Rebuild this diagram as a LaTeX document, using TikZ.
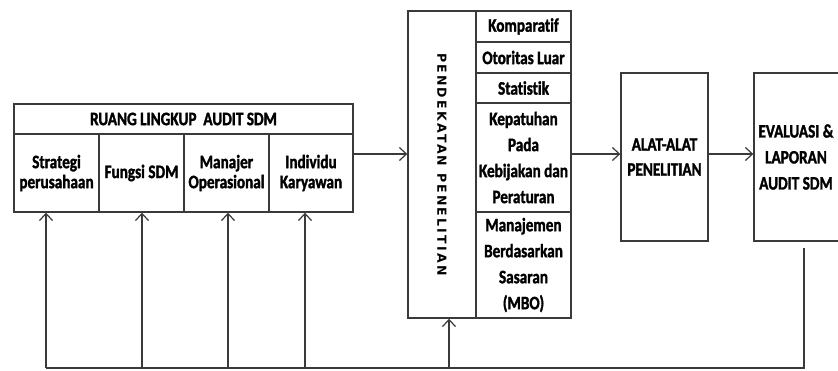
\documentclass[tikz,border=0pt]{standalone}
\usepackage{fontspec}
\usepackage{graphicx}
\usetikzlibrary{arrows.meta}
\newfontfamily\cf{Carlito}[FakeStretch=0.8, FakeBold=1.6, Ligatures=NoCommon]
\newfontfamily\vf{DejaVu Sans}[LetterSpace=18]
\definecolor{lc}{HTML}{3A3A3A}
\tikzset{
  box/.style={draw=lc, line width=1.4pt, inner sep=0pt, align=center,
    font=\cf\bfseries\fontsize{19}{20}\selectfont},
  tallbox/.style={box, font=\cf\bfseries\fontsize{19}{26}\selectfont},
  plain/.style={inner sep=0pt, align=center, font=\cf\bfseries\fontsize{19}{26}\selectfont},
  arr/.style={draw=lc, line width=1.3pt, -{Straight Barb[length=7pt,width=13pt,line width=1.2pt]}},
  fbline/.style={draw=lc, line width=1.3pt}
}
\begin{document}
\begin{tikzpicture}[x=1pt,y=-1pt]
\useasboundingbox (0,0) rectangle (838,370);
% left block
\node[box, minimum width=339, minimum height=30] (hdr) at (183.5,119) {RUANG LINGKUP\ \ AUDIT SDM};
\node[box, minimum width=85, minimum height=78] (c1) at (56.5,173) {Strategi\\perusahaan};
\node[box, minimum width=85, minimum height=78] (c2) at (141.5,173) {Fungsi SDM};
\node[box, minimum width=85, minimum height=78] (c3) at (226.5,173) {Manajer\\Operasional};
\node[box, minimum width=84, minimum height=78] (c4) at (311,173) {Individu\\Karyawan};
% approach block
\node[box, minimum width=68, minimum height=307] (pk) at (442,164.5)
  {\rotatebox{-90}{\vf\bfseries\fontsize{12.5}{14}\selectfont PENDEKATAN PENELITIAN}};
\node[box, minimum width=95, minimum height=31] (k1) at (523.5,26.5) {Komparatif};
\node[box, minimum width=95, minimum height=31] (k2) at (523.5,57.5) {Otoritas Luar};
\node[box, minimum width=95, minimum height=30] (k3) at (523.5,88) {Statistik};
\node[tallbox, minimum width=95, minimum height=109] (k4) at (523.5,157.5) {Kepatuhan\\Pada\\Kebijakan dan\\Peraturan};
\node[tallbox, minimum width=95, minimum height=106] (k5) at (523.5,265) {Manajemen\\Berdasarkan\\Sasaran\\(MBO)};
% tools
\node[tallbox, minimum width=87, minimum height=168, font=\cf\bfseries\fontsize{19}{25}\selectfont] (alat) at (664.5,157) {ALAT-ALAT\\PENELITIAN};
% evaluation (cut by the right edge)
\node[box, minimum width=92, minimum height=168] (ev) at (800,157) {};
\node[plain] (evt) at (796,157) {EVALUASI \&\\LAPORAN\\AUDIT SDM};
% forward arrows
\coordinate (lvl) at (0,154);
\draw[arr] (c4.east |- lvl) -- (pk.west |- lvl);
\draw[arr] (k3.east |- lvl) -- (alat.west |- lvl);
\draw[arr] (alat.east |- lvl) -- (ev.west |- lvl);
% feedback
\coordinate (fb) at (804,248);
\coordinate (a1) at (46,368);
\coordinate (a2) at (142,368);
\coordinate (a3) at (228,368);
\coordinate (a4) at (305,368);
\coordinate (a5) at (449,368);
\draw[fbline] (fb) |- (a1);
\draw[arr] (a1) -- (a1 |- c1.south);
\draw[arr] (a2) -- (a2 |- c2.south);
\draw[arr] (a3) -- (a3 |- c3.south);
\draw[arr] (a4) -- (a4 |- c4.south);
\draw[arr] (a5) -- (a5 |- pk.south);
\end{tikzpicture}
\end{document}
